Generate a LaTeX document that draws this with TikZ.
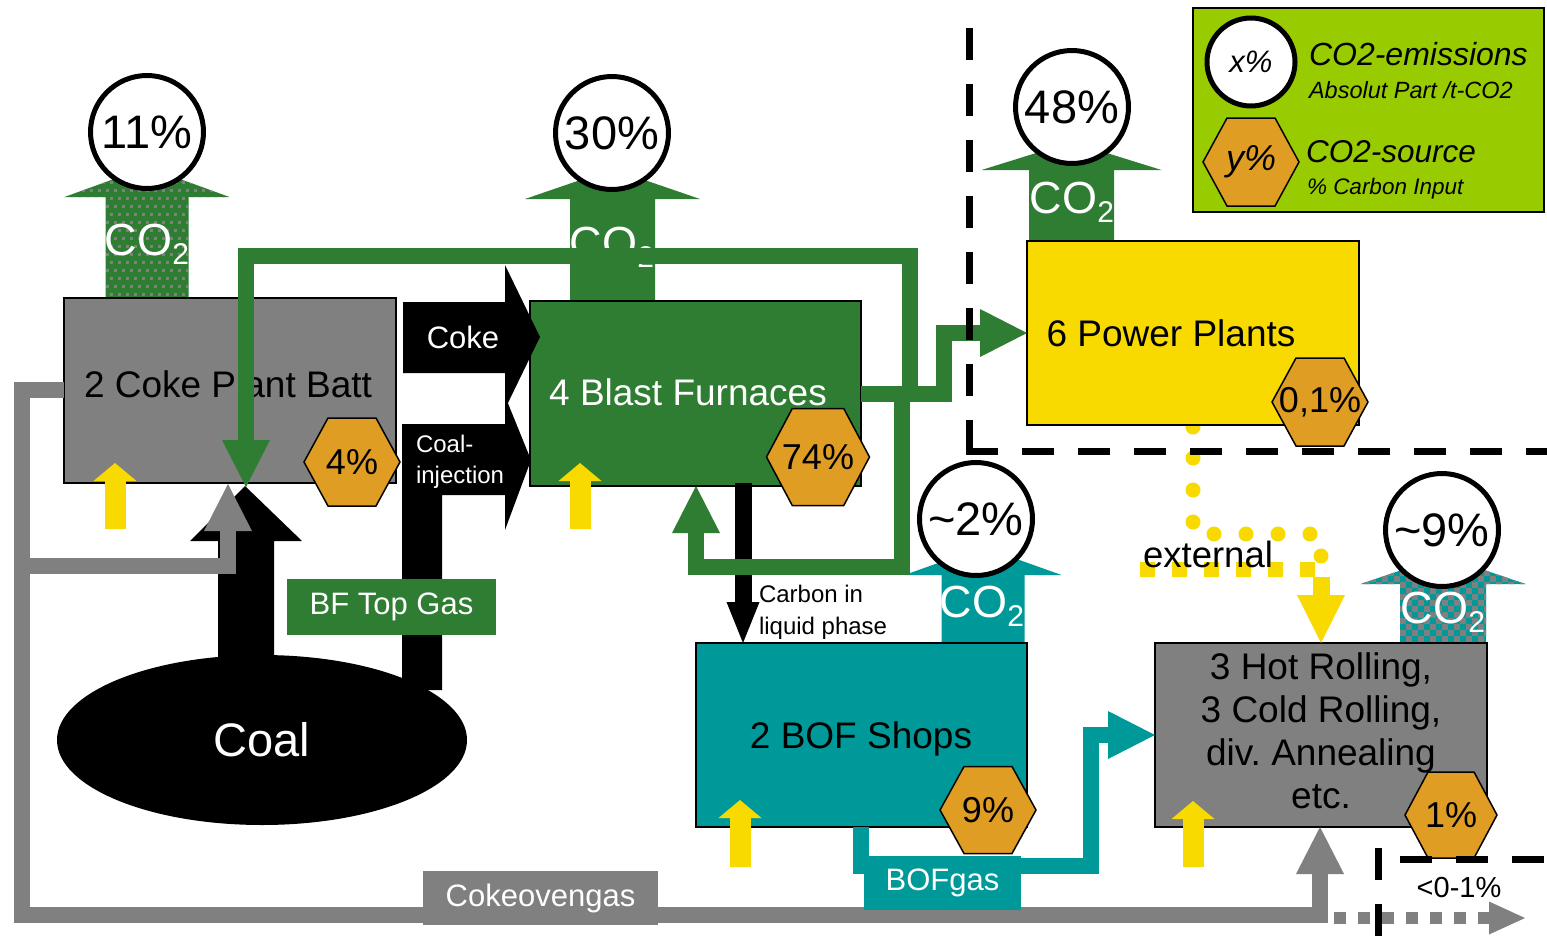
\documentclass[tikz,border=0pt]{standalone}
\usepackage{fontspec}
\setmainfont{Liberation Sans}
\usetikzlibrary{arrows.meta,shapes.geometric}
\frenchspacing
\definecolor{bfgreen}{RGB}{46,125,50}
\definecolor{tealc}{RGB}{0,153,153}
\definecolor{gry}{RGB}{128,128,128}
\definecolor{hexorange}{RGB}{224,157,36}
\definecolor{ylw}{RGB}{248,218,0}
\definecolor{lgnd}{RGB}{153,204,0}
\newcommand\fs[1]{\fontsize{#1}{#1}\selectfont}
\newcommand\cotwo{CO\raisebox{-0.22em}{\fontsize{30}{30}\selectfont 2}}
\newcommand\coshapefill[7]{\fill[#1] (#2-#5,#3) -- (#2-#5,#4) -- (#2-#6,#4) -- (#2,#7) -- (#2+#6,#4) -- (#2+#5,#4) -- (#2+#5,#3) -- cycle;}
\newcommand\coshapeclip[6]{\clip (#1-#4,#2) -- (#1-#4,#3) -- (#1-#5,#3) -- (#1,#6) -- (#1+#5,#3) -- (#1+#4,#3) -- (#1+#4,#2) -- cycle;}
\newcommand\hexa[6]{%
  \filldraw[hexshape] (#2-#4,#3) -- (#2-#4/2,#3-#5) -- (#2+#4/2,#3-#5) -- (#2+#4,#3) -- (#2+#4/2,#3+#5) -- (#2-#4/2,#3+#5) -- cycle;
  \node[hextext] (#1) at (#2,#3) {#6};}
\tikzset{
  boxnode/.style={draw=black, line width=1.5pt, inner sep=0pt, outer sep=0pt},
  lbl/.style={inner sep=0pt, outer sep=0pt},
  pct/.style={circle, draw=black, line width=5pt, fill=white, minimum size=113pt, inner sep=0pt, font=\fs{47}},
  hexshape/.style={fill=hexorange, draw=black, line width=1.5pt},
  hextext/.style={inner sep=0pt, font=\fs{36}},
  gasline/.style={line width=16pt},
  bigtip/.style={-{Triangle[width=48pt,length=47pt,line width=0pt]}},
  yarr/.style={draw=ylw, line width=21pt, -{Triangle[width=43pt,length=18pt,line width=0pt]}},
  tagbox/.style={inner sep=0pt, outer sep=0pt, text=white, font=\fs{31}},
  dashline/.style={line width=7pt, dash pattern=on 32pt off 24pt},
}
\begin{document}
\begin{tikzpicture}[x=1pt,y=-1pt]
\useasboundingbox (0,0) rectangle (1547,937);
\fill[white] (0,0) rectangle (1547,937);

% ---- yellow external dots (under boxes)
\foreach \p in {(1193,427),(1193,458),(1193,490),(1193,522),(1214,534),(1246,534),(1278,534),(1310,534),(1321,556)}
  \fill[ylw] \p circle (7.5);
\foreach \xx in {1147,1179,1211,1243,1275,1307}
  \fill[ylw] (\xx-7.5,562) rectangle +(15,15);

% ---- CO2 arrows
\begin{scope}
  \coshapeclip{147}{298}{197}{41.5}{82.5}{167}
  \fill[bfgreen] (60,160) rectangle (235,300);
  \foreach \i in {0,...,21} {\foreach \j in {0,...,17} {\fill[gry] ({62+\i*8+mod(\j,2)*4},{165+\j*8}) rectangle +(2.5,2.5);}}
\end{scope}
\coshapefill{bfgreen}{612.5}{301}{199}{42.5}{87.5}{169}
\coshapefill{bfgreen}{1071.5}{241}{170}{42.5}{90}{142}
\coshapefill{tealc}{983}{643}{575}{41.5}{78.5}{547}
\begin{scope}
  \coshapeclip{1443}{643}{584}{43}{82.5}{556}
  \fill[tealc] (1355,550) rectangle (1530,645);
  \foreach \i in {0,...,28} {\foreach \j in {0,...,7} {\fill[gry] ({1358+\i*6},{552+(2*\j+mod(\i,2))*6}) rectangle +(6,6);}}
\end{scope}
\node[lbl, anchor=base, text=white, font=\fs{45}] (co1) at (147,255) {\cotwo};
\node[lbl, anchor=base, text=white, font=\fs{45}] (co2) at (612,258) {\cotwo};
\node[lbl, anchor=base, text=white, font=\fs{45}] (co3) at (1072,213) {\cotwo};
\node[lbl, anchor=base, text=white, font=\fs{45}] (co4) at (982,617) {\cotwo};
\node[lbl, anchor=base, text=white, font=\fs{45}] (co5) at (1443,623) {\cotwo};

% ---- process boxes
\node[boxnode, fill=gry, minimum width=332pt, minimum height=185pt] (coke) at (230,390.5) {};
\node[boxnode, fill=bfgreen, minimum width=331pt, minimum height=185pt] (bf) at (695.5,393.5) {};
\node[boxnode, fill=ylw, minimum width=332pt, minimum height=184pt] (pp) at (1193,333) {};
\node[boxnode, fill=tealc, minimum width=331pt, minimum height=184pt] (bof) at (861.5,735) {};
\node[boxnode, fill=gry, minimum width=332pt, minimum height=184pt] (roll) at (1321,735) {};

\node[lbl, anchor=base, font=\fs{37}] (coketxt) at (228,397) {2 Coke Plant Batt};
\node[lbl, anchor=base, text=white, font=\fs{37}] (bftxt) at (688,405) {4 Blast Furnaces};
\node[lbl, anchor=base, font=\fs{37}] (pptxt) at (1171,346) {6 Power Plants};
\node[lbl, anchor=base, font=\fs{37}] (boftxt) at (861,748) {2 BOF Shops};
\node[lbl, align=center, font=\fontsize{37}{43}\selectfont] (rolltxt) at (1321,731) {3 Hot Rolling,\\3 Cold Rolling,\\div. Annealing\\etc.};

% ---- coal and black flows
\node[ellipse, fill=black, minimum width=410pt, minimum height=170pt, inner sep=0pt, text=white, font=\fs{47}] (coal) at (262,740) {Coal};
\fill[black] (218,700) -- (218,541) -- (190,541) -- (245,486) -- (302,541) -- (274,541) -- (274,700) -- cycle;
\fill[black] (403,302) -- (505,302) -- (505,265) -- (540,337) -- (505,409) -- (505,373) -- (403,373) -- cycle;
\fill[black] (402,690) -- (402,424) -- (505,424) -- (505,396) -- (531,460) -- (505,530) -- (505,495) -- (442,495) -- (442,690) -- cycle;
\node[lbl, text=white, font=\fs{31}] (coketag) at (463,337) {Coke};
\node[lbl, anchor=west, align=left, text=white, font=\fontsize{24}{31}\selectfont] (cinj) at (416,462) {Coal-\\injection};

\draw[black, line width=17pt, -{Triangle[width=33pt,length=41pt,line width=0pt]}] (743,483) -- (bof.north -| 743,0);
\node[lbl, anchor=west, align=left, font=\fontsize{24}{32}\selectfont] (carbon) at (759,612) {Carbon in\\liquid phase};

% ---- gray coke oven gas
\draw[gry, gasline, bigtip] (coke.west |- 0,390) -- (22,390) -- (22,915) -- (1320,915) -- (roll.south -| 1320,0);
\draw[gry, gasline, bigtip] (22,566) -- (228,566) -- (228,484);
\coordinate (extgas) at (1525,918);
\draw[gry, line width=12pt, dash pattern=on 12pt off 12pt, -{Triangle[width=33pt,length=36pt,line width=0pt]}] (1334,918) -- (extgas);
\node[tagbox, fill=gry, minimum width=235pt, minimum height=54pt] (cogtag) at (540.5,898) {Cokeovengas};

% ---- green BF top gas
\draw[bfgreen, gasline, bigtip] (bf.east |- 0,394) -- (944,394) -- (944,333) -- (pp.west |- 0,333);
\draw[bfgreen, gasline, bigtip] (910,402) -- (910,256) -- (246,256) -- (246,487);
\draw[bfgreen, gasline, bigtip] (902,394) -- (902,567) -- (696,567) -- (bf.south -| 696,0);
\node[tagbox, fill=bfgreen, minimum width=209pt, minimum height=56pt] (bfgtag) at (391.5,607) {BF Top Gas};

% ---- teal BOF gas
\draw[tealc, gasline, bigtip] (bof.south -| 861,0) -- (861,866) -- (1091,866) -- (1091,735) -- (roll.west);
\node[tagbox, fill=tealc, minimum width=157pt, minimum height=54pt] (bofgtag) at (942.5,883) {BOFgas};

% ---- yellow energy input arrows
\draw[yarr] (115,529) -- (115,463);
\draw[yarr] (580,529) -- (580,463);
\draw[yarr] (740,867) -- (740,800);
\draw[yarr] (1193,867) -- (1193,801);
\draw[ylw, line width=17pt, -{Triangle[width=48pt,length=48pt,line width=0pt]}] (1321,577) -- (roll.north -| 1321,0);
\node[lbl, anchor=base, font=\fs{36.5}] (exttxt) at (1208,567) {external};

% ---- hexagons (carbon source)
\hexa{h1}{352}{462}{48}{44}{4\%}
\hexa{h2}{818}{457}{51.5}{48.5}{74\%}
\hexa{h3}{1320}{402}{48}{44}{0,1\%}
\hexa{h4}{988}{810}{48}{43.5}{9\%}
\hexa{h5}{1451}{815}{46}{43}{1\%}

% ---- emission circles
\node[pct] (e1) at (147,132) {11\%};
\node[pct] (e2) at (612,133) {30\%};
\node[pct] (e3) at (1072,107) {48\%};
\node[pct] (e4) at (976,519) {\textasciitilde 2\%};
\node[pct] (e5) at (1442,530) {\textasciitilde 9\%};

% ---- system boundaries
\draw[dashline] (969,28) -- (969,451);
\draw[dashline] (966,451) -- (1547,451);
\draw[dashline] (1378,848) -- (1378,937);
\draw[dashline] (1400,859) -- (1547,859);
\node[lbl, font=\fs{29}] (lowtxt) at (1459,888) {<0-1\%};

% ---- legend
\node[boxnode, fill=lgnd, line width=2pt, minimum width=351pt, minimum height=204pt] (legend) at (1368.5,110) {};
\node[pct, minimum size=88pt, font=\itshape\fs{31}] (lx) at (1251,62) {x\%};
\hexa{ly}{1251}{162}{48}{44}{\itshape y\%}
\node[lbl, anchor=base west, font=\itshape\fs{32}] (lt1) at (1309,65) {CO2-emissions};
\node[lbl, anchor=base west, font=\itshape\fs{23.5}] (lt2) at (1309,98) {Absolut Part /t-CO2};
\node[lbl, anchor=base west, font=\itshape\fs{31.5}] (lt3) at (1306,162) {CO2-source};
\node[lbl, anchor=base west, font=\itshape\fs{22.5}] (lt4) at (1307,194) {\% Carbon Input};
\end{tikzpicture}
\end{document}
